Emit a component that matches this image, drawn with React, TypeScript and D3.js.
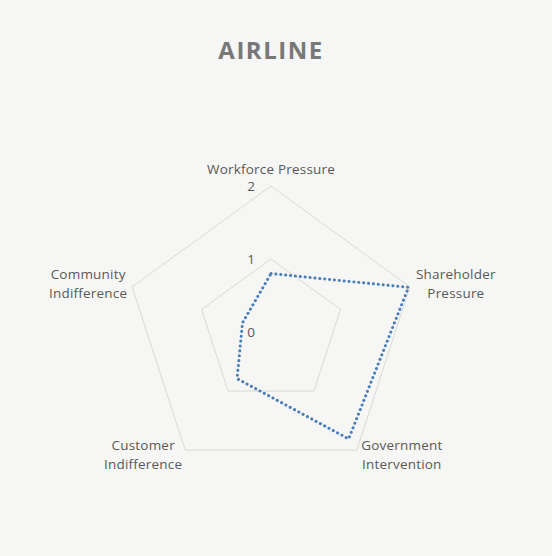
import React, { useEffect, useRef } from 'react';
import * as d3 from 'd3';

const categories = [
  ['Workforce Pressure'],
  ['Shareholder', 'Pressure'],
  ['Government', 'Intervention'],
  ['Customer', 'Indifference'],
  ['Community', 'Indifference'],
];
const airlineValues = [0.8, 1.98, 1.81, 0.79, 0.41];
const tickValues = [0, 1, 2];
const chartTitle = 'AIRLINE';

const width = 552;
const height = 556;

const App: React.FC = () => {
  const svgRef = useRef<SVGSVGElement>(null);

  useEffect(() => {
    if (!svgRef.current) return;
    const svg = d3.select(svgRef.current);
    svg.selectAll('*').remove();

    const cx = 271;
    const cy = 332;
    const radius = 146;
    const font = "'Open Sans', 'Noto Sans', sans-serif";

    svg.append('rect')
      .attr('width', width)
      .attr('height', height)
      .attr('fill', '#f6f6f4');

    svg.append('text')
      .attr('x', cx)
      .attr('y', 59)
      .attr('text-anchor', 'middle')
      .style('font-family', font)
      .style('font-size', '24px')
      .style('font-weight', 'bold')
      .style('letter-spacing', '1.5px')
      .style('fill', '#787878')
      .text(chartTitle);

    const r = d3.scaleLinear().domain([0, 2]).range([0, radius]);
    const angle = (i: number) => (i * 2 * Math.PI) / categories.length;
    const point = (i: number, v: number): [number, number] => [
      cx + r(v) * Math.sin(angle(i)),
      cy - r(v) * Math.cos(angle(i)),
    ];

    const g = svg.append('g');

    // grid pentagons
    tickValues.filter(t => t > 0).forEach(t => {
      const pts = categories.map((_, i) => point(i, t));
      g.append('path')
        .attr('d', d3.line()(pts.concat([pts[0]])) as string)
        .attr('fill', 'none')
        .attr('stroke', '#d9d9d9')
        .attr('stroke-width', 1);
    });

    // tick labels
    tickValues.forEach(t => {
      g.append('text')
        .attr('x', cx - 16)
        .attr('y', cy - r(t) + 5)
        .attr('text-anchor', 'end')
        .style('font-family', font)
        .style('font-size', '13.5px')
        .style('fill', '#595959')
        .text(String(t));
    });

    // data polygon
    const dataPts = airlineValues.map((v, i) => point(i, v));
    g.append('path')
      .attr('d', d3.line()(dataPts.concat([dataPts[0]])) as string)
      .attr('fill', 'none')
      .attr('stroke', '#4a7ebb')
      .attr('stroke-width', 3)
      .attr('stroke-linecap', 'round')
      .attr('stroke-dasharray', '0.1 4.8');

    // category labels
    const labelOffsets: [number, number][] = [
      [0, -17],
      [46, -3],
      [45, 4],
      [-42, 4],
      [-44, -3],
    ];
    categories.forEach((lines, i) => {
      const [vx, vy] = point(i, 2);
      const [ox, oy] = labelOffsets[i];
      const lineH = 19;
      const startY = vy + oy - ((lines.length - 1) * lineH) / 2 + 5;
      const text = g.append('text')
        .attr('text-anchor', 'middle')
        .style('font-family', font)
        .style('font-size', '13.5px')
        .style('letter-spacing', '0.2px')
        .style('fill', '#595959');
      lines.forEach((ln, j) => {
        text.append('tspan')
          .attr('x', vx + ox)
          .attr('y', startY + j * lineH)
          .text(ln);
      });
    });
  }, []);

  return (
    <svg
      ref={svgRef}
      width={width}
      height={height}
      style={{ position: 'absolute', left: 0, top: 0, display: 'block' }}
    />
  );
};

export default App;
